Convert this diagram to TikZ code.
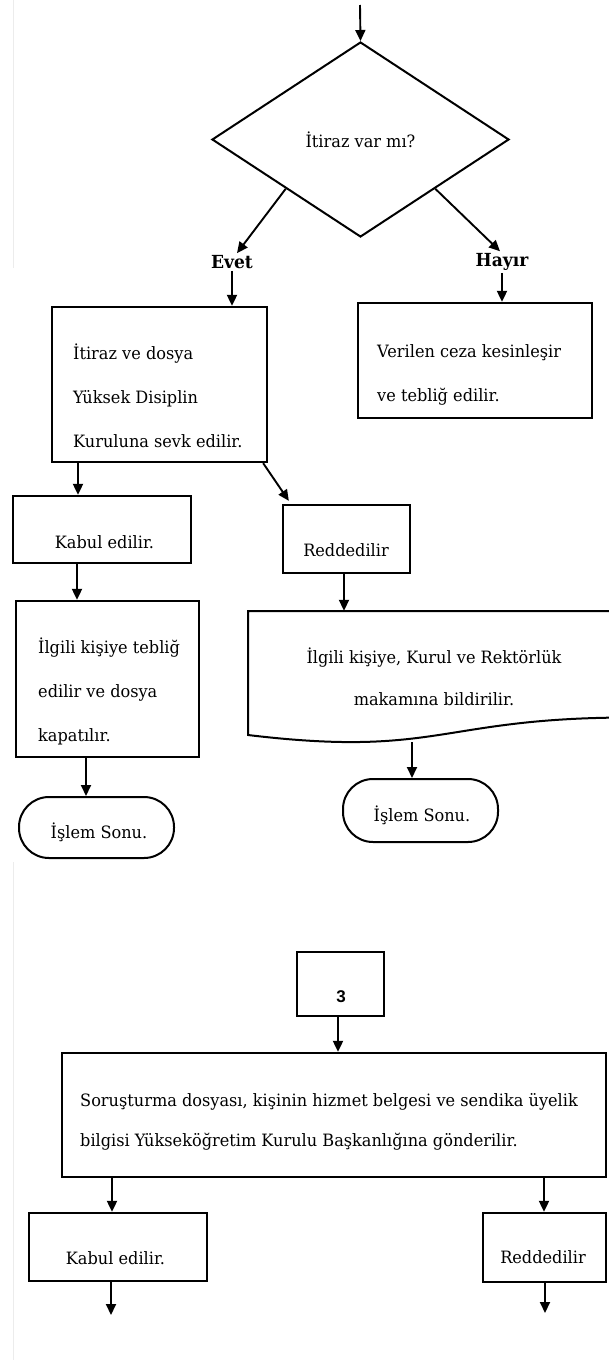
\documentclass[tikz,border=0pt]{standalone}
\usepackage{fontspec}
\setmainfont{DejaVu Serif}[FakeStretch=0.95]
\newfontfamily\numfont{Liberation Sans}
\usetikzlibrary{arrows.meta,shapes.geometric,positioning}
\tikzstyle{arrow} = [line width=1.9pt,-{Triangle[length=11pt,width=10pt]}]
\tikzstyle{box} = [draw, line width=2.3pt, inner sep=0pt]
\tikzstyle{decision} = [diamond, draw, line width=2pt, inner sep=0pt]
\tikzstyle{endbox} = [draw, line width=2pt, rounded corners=30pt, inner sep=0pt]
\tikzstyle{txt} = [inner sep=0pt, align=left, font=\fontsize{17}{44}\selectfont]
\tikzstyle{lbl} = [inner sep=2pt, font=\fontsize{18}{20}\selectfont\bfseries]

\begin{document}
\begin{tikzpicture}[x=1pt,y=-1pt]
                    \useasboundingbox (0,0) rectangle (608,1360);
                    \draw[gray!15, line width=1pt] (13,0) -- (13,268);
                    \draw[gray!15, line width=1pt] (13,862) -- (13,1360);

                    % karar
                    \coordinate (top) at (360,5);
                    \node[decision, minimum width=297pt, minimum height=195pt, font=\fontsize{17}{20}\selectfont] (dia) at (360.5,139.5) {İtiraz var mı?};
                    \draw[arrow] (top) -- (dia.north);
                    \node[lbl] (evet) at (232,262) {Evet};
                    \node[lbl] (hayir) at (502,262) {Hayır};
                    \draw[arrow] (dia.south west) -- ([xshift=5pt]evet.north);
                    \draw[arrow] (dia.south east) -- ([xshift=-2pt]hayir.north);

                    % kutular
                    \node[box, minimum width=215pt, minimum height=155pt] (b1) at (159.5,384.5) {};
                    \node[txt, anchor=west] (b1t) at (73,396) {İtiraz ve dosya\\Yüksek Disiplin\\Kuruluna sevk edilir.};
                    \node[box, minimum width=234pt, minimum height=115pt] (b2) at (475,360.5) {};
                    \node[txt, anchor=west] (b2t) at (377,374.5) {Verilen ceza kesinleşir\\ve tebliğ edilir.};
                    \draw[arrow] (evet) -- (evet |- b1.north);
                    \draw[arrow] (hayir) -- (hayir |- b2.north);

                    \node[box, minimum width=178pt, minimum height=67pt] (kab1) at (102,529.5) {};
                    \node[txt] (kab1t) at (104.5,542) {Kabul edilir.};
                    \node[box, minimum width=127pt, minimum height=68pt] (red1) at (346.5,539) {};
                    \node[txt] (red1t) at (346,550) {Reddedilir};
                    \draw[arrow] ([xshift=-5pt]b1.south east) -- ([xshift=7pt,yshift=3pt]red1.north west);

                    \node[box, minimum width=183pt, minimum height=156pt] (b3) at (107.5,679) {};
                    \node[txt, anchor=west] (b3t) at (38,691.5) {İlgili kişiye tebliğ\\edilir ve dosya\\kapatılır.};

                    % belge
                    \node[minimum width=383pt, minimum height=133pt, inner sep=0pt] (doc) at (439.5,677.5) {};
                    \draw[line width=2pt] (248,611) -- (631,611) -- (631,717.5)
                        .. controls (439.5,717.5) and (439.5,758) .. (248,735) -- cycle;
                    \node[txt, align=center, font=\fontsize{17}{42}\selectfont] (doct) at (434,677) {İlgili kişiye, Kurul ve Rektörlük\\makamına bildirilir.};
                    \coordinate (docb) at (412,742);

                    \node[endbox, minimum width=155pt, minimum height=61pt] (son1) at (96.5,827.5) {};
                    \node[txt] (son1t) at (99,832) {İşlem Sonu.};
                    \node[endbox, minimum width=155pt, minimum height=63pt] (son2) at (420.5,810.5) {};
                    \node[txt] (son2t) at (422,815) {İşlem Sonu.};
                    \draw[arrow] (docb) -- (docb |- son2.north);

                    % 3
                    \node[box, minimum width=87pt, minimum height=64pt] (n3) at (340.5,984) {};
                    \node[inner sep=0pt, font=\numfont\bfseries\fontsize{17}{18}\selectfont] (n3t) at (341,997) {3};
                    \node[box, minimum width=544pt, minimum height=124pt] (big) at (334,1115) {};
                    \node[txt, anchor=west, font=\fontsize{17}{40}\selectfont] (bigt) at (80,1122) {Soruşturma dosyası, kişinin hizmet belgesi ve sendika üyelik\\bilgisi Yükseköğretim Kurulu Başkanlığına gönderilir.};
                    \node[box, minimum width=178pt, minimum height=68pt] (kab2) at (118,1247) {};
                    \node[txt] (kab2t) at (115.5,1258) {Kabul edilir.};
                    \node[box, minimum width=123pt, minimum height=69pt] (red2) at (544.5,1247.5) {};
                    \node[txt] (red2t) at (543,1257) {Reddedilir};

                    \foreach \from/\to/\x in {b1/kab1/78, kab1/b3/77, b3/son1/86, red1/doc/344, n3/big/338, big/kab2/112, big/red2/544}{
                        \draw[arrow] (\x,0 |- \from.south) -- (\x,0 |- \to.north);
                    }
                    \coordinate (out1) at (111,1315);
                    \coordinate (out2) at (545,1313);
                    \foreach \from/\to in {kab2/out1, red2/out2}{
                        \draw[arrow] (\to |- \from.south) -- (\to);
                    }
                \end{tikzpicture}
\end{document}
